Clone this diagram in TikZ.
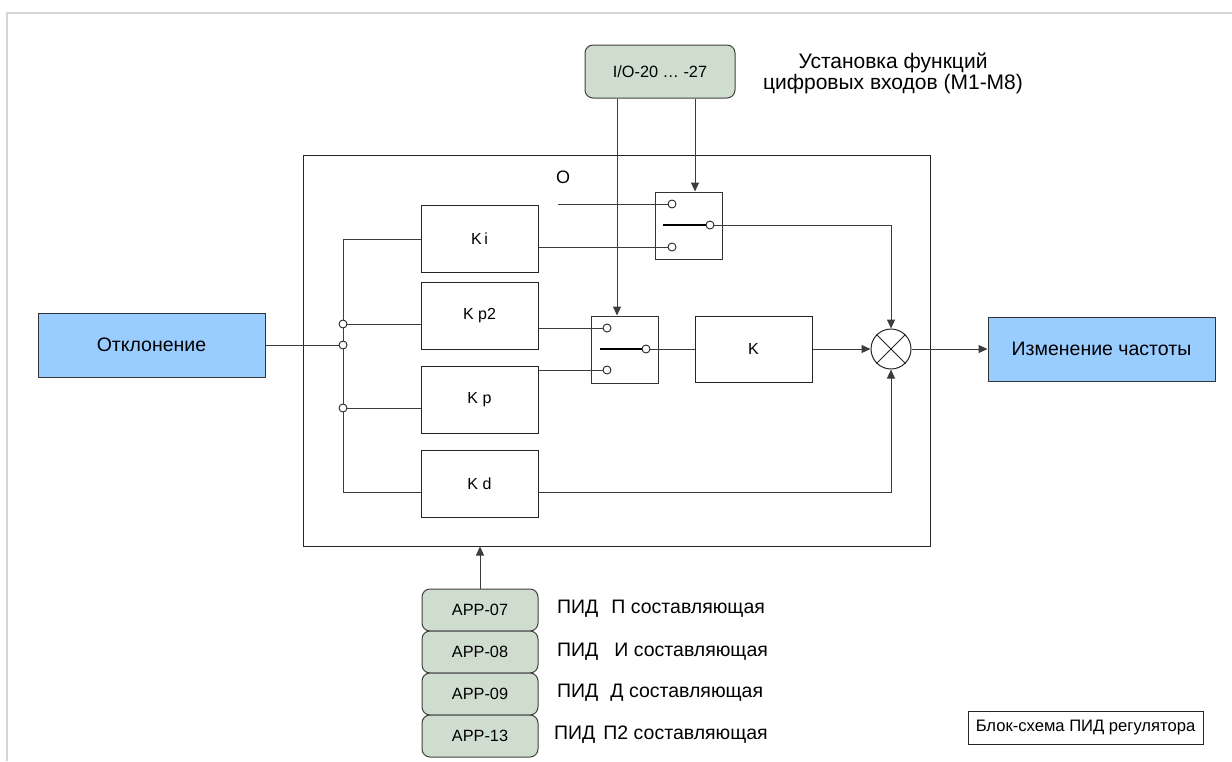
\documentclass[tikz,border=0pt]{standalone}
\usepackage{fontspec}
\setmainfont{Liberation Sans}
\usetikzlibrary{arrows.meta,calc}
\definecolor{blueb}{RGB}{153,204,255}
\definecolor{greenb}{RGB}{207,221,207}
\definecolor{lineg}{RGB}{60,60,60}
\definecolor{frameg}{RGB}{212,212,212}
\begin{document}
\begin{tikzpicture}[x=1pt,y=-1pt,
  ln/.style={draw=lineg, line width=1pt},
  arr/.style={ln, -{Triangle[length=9pt,width=8pt]}},
  blk/.style={draw=black!85, line width=1pt, fill=white, inner sep=0pt, minimum width=117pt, minimum height=67pt, font=\fontsize{16}{18}\selectfont},
  bigblk/.style={draw=black!80, line width=1pt, fill=blueb, inner sep=0pt, minimum width=227pt, minimum height=64pt, font=\fontsize{19.5}{21}\selectfont},
  appblk/.style={draw=black!75, line width=1pt, fill=greenb, rounded corners=8pt, minimum width=116pt, minimum height=42pt, inner sep=0pt, font=\fontsize{16.3}{18}\selectfont},
  swbox/.style={draw=black!80, line width=1pt, minimum width=67pt, minimum height=67pt, inner sep=0pt},
  pin/.style={circle, draw=black!85, line width=0.9pt, fill=white, minimum size=8pt, inner sep=0pt},
  contact/.style={draw=black, line width=1.6pt},
  desc/.style={anchor=west, font=\fontsize{19.5}{21}\selectfont, inner sep=0pt},
]
\useasboundingbox (0,0) rectangle (1232,761);
\draw[frameg, line width=1.5pt] (7,761) -- (7,13) -- (1232,13);

% main box
\node[draw=black!85, line width=1pt, minimum width=627pt, minimum height=391pt, inner sep=0pt] (main) at (616.5,350.5) {};
\node[font=\fontsize{18}{20}\selectfont, inner sep=0pt] (olab) at (563,177) {O};

% top input
\node[appblk, minimum width=150pt, minimum height=53pt] (io) at (660,71.5) {I/O-20 \dots\ -27};
\node[align=center, font=\fontsize{21}{21}\selectfont, inner sep=0pt] (toplab) at (893,73) {Установка функций\\цифровых входов (M1-M8)};

% blocks
\node[blk] (ki) at (479.5,239) {K\,i};
\node[blk] (kp2) at (479.5,315.5) {K p2};
\node[blk] (kp) at (479.5,399.5) {K p};
\node[blk] (kd) at (479.5,483.5) {K d};
\node[blk, minimum height=66pt] (k) at (753.5,349) {K};

\node[bigblk] (otkl) at (151.5,345) {Отклонение};
\node[bigblk] (izm) at (1101.5,349) {Изменение частоты};

% switches
\node[swbox] (sw1) at (688.5,225.5) {};
\node[swbox] (sw2) at (624.5,349.5) {};
\node[pin] (s1a) at (672,204) {};
\node[pin] (s1o) at (710,225) {};
\node[pin] (s1b) at (672,247) {};
\node[pin] (s2a) at (607,328) {};
\node[pin] (s2o) at (646,349) {};
\node[pin] (s2b) at (607,370) {};
\coordinate (c1) at (663,225);
\coordinate (c2) at (600,349);
\coordinate (free) at (558,204);

% junctions
\node[pin] (jp2) at (343,324) {};
\node[pin] (jin) at (343,345) {};
\node[pin] (jkp) at (343,408) {};
\coordinate (kdin) at (421,492);
\coordinate (kdout) at (538,492);

% multiplier
\node[circle, draw=black!85, line width=1pt, fill=white, minimum size=40pt, inner sep=0pt] (mult) at (891,349) {};
\draw[black!85, line width=0.9pt] (mult.north west) -- (mult.south east) (mult.north east) -- (mult.south west);

% APP boxes
\node[appblk] (app7) at (480,610) {APP-07};
\node[appblk] (app8) at (480,652) {APP-08};
\node[appblk] (app9) at (480,694) {APP-09};
\node[appblk] (app13) at (480,736) {APP-13};
\node[desc] (d7) at (557,609) {ПИД\hspace{13pt}П составляющая};
\node[desc] (d8) at (557,652) {ПИД\hspace{16pt}И составляющая};
\node[desc] (d9) at (557,693) {ПИД\hspace{12pt}Д составляющая};
\node[desc] (d13) at (554,735) {ПИД\hspace{8pt}П2 составляющая};

\node[draw=black!85, line width=1pt, minimum width=235pt, minimum height=33pt, inner sep=0pt, font=\fontsize{16.6}{18}\selectfont] (cap) at (1085.5,727.5) {Блок-схема ПИД регулятора};

% connectors
\draw[ln] (otkl.east) -- (jin.west);
\draw[ln] (ki.west) -| (jp2.north);
\draw[ln] (jp2.south) -- (jin.north);
\draw[ln] (jin.south) -- (jkp.north);
\draw[ln] (jkp.south) |- (kdin);
\draw[ln] (jp2.east) -- (jp2.east -| kp2.west);
\draw[ln] (jkp.east) -- (jkp.east -| kp.west);

\draw[ln] (free) -- (s1a.west);
\draw[ln] (s1b.west -| ki.east) -- (s1b.west);
\draw[ln] (s2a.west -| kp2.east) -- (s2a.west);
\draw[ln] (s2b.west -| kp.east) -- (s2b.west);
\draw[contact] (c1) -- (s1o.west);
\draw[contact] (c2) -- (s2o.west);

\draw[arr] ([xshift=-43pt]io.south) -- ([xshift=-43pt]io.south |- sw2.north);
\draw[arr] ([xshift=35pt]io.south) -- ([xshift=35pt]io.south |- sw1.north);

\draw[ln] (s2o.east) -- (k.west);
\draw[arr] (s1o.east) -| (mult.north);
\draw[arr] (k.east) -- (mult.west);
\draw[arr] (kdout) -| (mult.south);
\draw[arr] (mult.east) -- (izm.west);
\draw[arr] (app7.north) -- (app7.north |- main.south);
\end{tikzpicture}
\end{document}
